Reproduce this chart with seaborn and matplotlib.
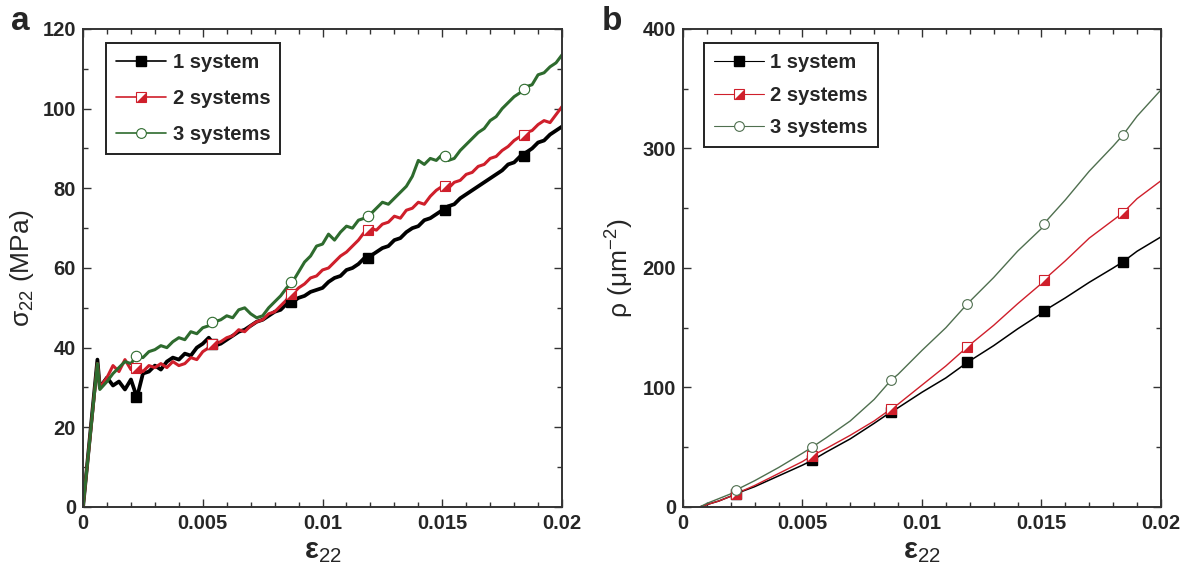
import matplotlib
matplotlib.use("Agg")
import matplotlib.pyplot as plt
import seaborn as sns
import pandas as pd
from matplotlib.path import Path
from matplotlib.ticker import MultipleLocator, FixedLocator, FixedFormatter
from matplotlib.lines import Line2D

# ---------------- data: panel a (stress-strain) ----------------
strain_a = [0, 0.0006, 0.0007,
            0.0010, 0.00125, 0.0015, 0.00175, 0.0020, 0.00225, 0.0025, 0.00275,
            0.0030, 0.00325, 0.0035, 0.00375, 0.0040, 0.00425, 0.0045, 0.00475,
            0.0050, 0.00525, 0.0055, 0.00575, 0.0060, 0.00625, 0.0065, 0.00675,
            0.0070, 0.00725, 0.0075, 0.00775, 0.0080, 0.00825, 0.0085, 0.00875,
            0.0090, 0.00925, 0.0095, 0.00975, 0.0100, 0.01025, 0.0105, 0.01075,
            0.0110, 0.01125, 0.0115, 0.01175, 0.0120, 0.01225, 0.0125, 0.01275,
            0.0130, 0.01325, 0.0135, 0.01375, 0.0140, 0.01425, 0.0145, 0.01475,
            0.0150, 0.01525, 0.0155, 0.01575, 0.0160, 0.01625, 0.0165, 0.01675,
            0.0170, 0.01725, 0.0175, 0.01775, 0.0180, 0.01825, 0.0185, 0.01875,
            0.0190, 0.01925, 0.0195, 0.01975, 0.0200]

stress_1 = [0, 37, 30,
            32.5, 30.5, 31.5, 29.5, 32, 27.5, 33.5, 34,
            35.5, 34.5, 36.5, 37.5, 37, 38.5, 38, 40,
            41, 42.5, 40.5, 41, 42, 43, 44, 44.5,
            45.5, 46.5, 47, 48, 49, 49.5, 51, 51.5,
            52.5, 53, 54, 54.5, 55, 56.5, 57.5, 58,
            59.5, 60, 61, 62.5, 63, 64, 65, 65.5,
            67, 67.5, 69, 70, 70.5, 72, 72.5, 73.5,
            74.5, 75.5, 76, 77.5, 78.5, 79.5, 80.5, 81.5,
            82.5, 83.5, 84.5, 86, 86.5, 88, 89, 90,
            91.5, 92, 93.5, 94.5, 95.5]

stress_2 = [0, 36, 30,
            32.5, 35.5, 34, 37, 34.5, 35, 34, 35.5,
            35, 36, 35, 36.5, 35.5, 36, 37.5, 37,
            39, 40, 41, 41.5, 42.5, 43, 44.5, 44,
            45.5, 46.5, 47, 48.5, 49, 50.5, 52, 53.5,
            55, 56, 57.5, 58, 59.5, 60, 61.5, 63,
            64, 65.5, 67, 69, 70, 69.5, 71, 71.5,
            73, 72.5, 74.5, 75, 76.5, 76, 78, 79.5,
            80.5, 80, 81.5, 82, 83.5, 84, 85.5, 86,
            87.5, 88, 89.5, 90.5, 92, 93, 94, 94.5,
            96, 97, 96.5, 98.5, 100.5]

stress_3 = [0, 36, 29.5,
            31.5, 33.5, 35, 36.5, 36, 38, 37.5, 39,
            39.5, 40.5, 40, 41.5, 42.5, 42, 44, 43.5,
            45, 45.5, 46.5, 47, 48, 47.5, 49.5, 50,
            48.5, 47.5, 48, 50, 51.5, 53, 55, 56.5,
            59, 61.5, 63, 65.5, 66, 68.5, 67, 69,
            70.5, 70, 72, 72.5, 73.5, 75, 76.5, 76,
            77.5, 79, 80.5, 83, 87, 86, 87.5, 87,
            88.5, 87, 87.5, 89.5, 91, 92.5, 94, 95,
            97, 98, 100, 101.5, 103, 104, 105.5, 106,
            108.5, 109, 110.5, 111.5, 113.5]

marker_strain = [0.0022, 0.0054, 0.0087, 0.0119, 0.0151, 0.0184]
marker_stress_1 = [27.5, 41, 51.5, 62.5, 74.5, 88]
marker_stress_2 = [35, 41, 53.5, 69.5, 80.5, 93.5]
marker_stress_3 = [38, 46.5, 56.5, 73, 88, 105]

# ---------------- data: panel b (dislocation density) ----------------
strain_b = [0.0007, 0.0010, 0.0015, 0.0020, 0.0022, 0.0030, 0.0040, 0.0050,
            0.0054, 0.0060, 0.0070, 0.0080, 0.0087, 0.0090, 0.0100, 0.0110,
            0.0119, 0.0130, 0.0140, 0.0150, 0.0151, 0.0160, 0.0170, 0.0180,
            0.0184, 0.0190, 0.0200]
rho_1 = [0, 2, 5, 9, 11, 17, 26, 35,
         39, 46, 57, 70, 79.5, 83, 96, 108,
         121, 135, 149, 162, 164, 175, 188, 200,
         205, 214, 226]
rho_2 = [0, 2, 5, 9, 11, 18, 28, 38,
         43, 49, 60, 72, 82, 86, 102, 118,
         134, 152, 170, 187, 190, 206, 225, 240,
         246, 258, 273]
rho_3 = [0, 3, 7, 11, 14, 22, 33, 45,
         50, 58, 72, 90, 106, 111, 131, 150,
         170, 192, 214, 233, 237, 257, 281, 302,
         311, 327, 349]
marker_rho_1 = [11, 39, 79.5, 121, 164, 205]
marker_rho_2 = [11, 43, 82, 134, 190, 246]
marker_rho_3 = [14, 50, 106, 170, 237, 311]

series_names = ["1 system", "2 systems", "3 systems"]
x_ticks = [0, 0.005, 0.01, 0.015, 0.02]
x_tick_labels = ["0", "0.005", "0.01", "0.015", "0.02"]
y_ticks_a = [0, 20, 40, 60, 80, 100, 120]
y_ticks_b = [0, 100, 200, 300, 400]

# ---------------- style ----------------
sns.set_style("ticks")
plt.rcParams['font.family'] = ['Liberation Sans', 'DejaVu Sans']
plt.rcParams['mathtext.fontset'] = 'custom'
plt.rcParams['mathtext.rm'] = 'Liberation Sans'
plt.rcParams['mathtext.it'] = 'Liberation Sans:italic'
plt.rcParams['mathtext.bf'] = 'Liberation Sans:bold'

BLACK = "#000000"
RED = "#cf1f2b"
GREEN = "#2e6b2e"
GREEN_B = "#4f6f4f"
SPINE = "#333333"

lower_right_tri = Path([(1, -1), (1, 1), (-1, -1), (1, -1)],
                       [Path.MOVETO, Path.LINETO, Path.LINETO, Path.CLOSEPOLY])

fig = plt.figure(figsize=(11.95, 5.76), dpi=100)
ax_a = fig.add_axes([0.0695, 0.1198, 0.4008, 0.8299])
ax_b = fig.add_axes([0.5715, 0.1198, 0.4000, 0.8299])


def draw_panel(ax, x, ys, mx, mys, lws, colors, ms):
    for y, c, lw in zip(ys, colors, lws):
        df = pd.DataFrame({"x": x, "y": y})
        sns.lineplot(data=df, x="x", y="y", ax=ax, color=c, lw=lw,
                     sort=False, estimator=None, legend=False, zorder=2)
    mdf1 = pd.DataFrame({"x": mx, "y": mys[0]})
    ax.plot(mdf1.x, mdf1.y, ls="none", marker="s", ms=ms, mfc=colors[0],
            mec=colors[0], zorder=3)
    mdf2 = pd.DataFrame({"x": mx, "y": mys[1]})
    ax.plot(mdf2.x, mdf2.y, ls="none", marker="s", ms=ms, mfc="white",
            mec=colors[1], mew=0.8, zorder=4)
    ax.plot(mdf2.x, mdf2.y, ls="none", marker=lower_right_tri, ms=ms * 0.95,
            mfc=colors[1], mec="none", zorder=5)
    mdf3 = pd.DataFrame({"x": mx, "y": mys[2]})
    ax.plot(mdf3.x, mdf3.y, ls="none", marker="o", ms=ms, mfc="white",
            mec=colors[2], mew=0.8, zorder=6)


draw_panel(ax_a, strain_a, [stress_1, stress_2, stress_3], marker_strain,
           [marker_stress_1, marker_stress_2, marker_stress_3], [2.7, 2.2, 2.2],
           [BLACK, RED, GREEN], 7.5)
draw_panel(ax_b, strain_b, [rho_1, rho_2, rho_3], marker_strain,
           [marker_rho_1, marker_rho_2, marker_rho_3], [1.1, 1.0, 1.0],
           [BLACK, RED, GREEN_B], 7)

for ax, yt, ymax, yminor in [(ax_a, y_ticks_a, 120, 10), (ax_b, y_ticks_b, 400, 50)]:
    ax.set_xlim(0, 0.02)
    ax.set_ylim(0, ymax)
    ax.xaxis.set_major_locator(FixedLocator(x_ticks))
    ax.xaxis.set_major_formatter(FixedFormatter(x_tick_labels))
    ax.xaxis.set_minor_locator(MultipleLocator(0.001))
    ax.yaxis.set_major_locator(FixedLocator(yt))
    ax.yaxis.set_major_formatter(FixedFormatter([str(v) for v in yt]))
    ax.yaxis.set_minor_locator(MultipleLocator(yminor))
    ax.tick_params(which="both", direction="in", top=True, right=True,
                   color=SPINE, width=1.0)
    ax.tick_params(which="major", length=6, labelsize=14.5, pad=5)
    ax.tick_params(which="minor", length=3.5)
    for lab in ax.get_xticklabels() + ax.get_yticklabels():
        lab.set_fontweight("bold")
    for s in ax.spines.values():
        s.set_visible(True)
        s.set_color(SPINE)
        s.set_linewidth(1.4)
    ax.set_xlabel(r"ε$_{22}$", fontsize=21, fontweight="bold", labelpad=3)

ax_a.set_ylabel(r"σ$_{22}$ (MPa)", fontsize=19, labelpad=5)
ax_b.set_ylabel(r"ρ (μm$^{-2}$)", fontsize=19, labelpad=5)


def legend_handles(lw, colors):
    h1 = Line2D([], [], color=colors[0], lw=lw, marker="s", ms=7, mfc=colors[0], mec=colors[0])
    h2 = (Line2D([], [], color=colors[1], lw=lw, marker="s", ms=7, mfc="white", mec=colors[1], mew=0.8),
          Line2D([], [], ls="none", marker=lower_right_tri, ms=6.6, mfc=colors[1], mec="none"))
    h3 = Line2D([], [], color=colors[2], lw=lw, marker="o", ms=7, mfc="white", mec=colors[2], mew=0.8)
    return [h1, h2, h3]


for ax, lw, cols, lsp, anchor in [(ax_a, 1.2, [BLACK, RED, GREEN], 0.84, (0.048, 0.971)),
                                  (ax_b, 0.8, [BLACK, RED, GREEN_B], 0.68, (0.044, 0.971))]:
    leg = ax.legend(legend_handles(lw, cols), series_names, loc="upper left",
                    bbox_to_anchor=anchor, borderaxespad=0, fancybox=False, framealpha=1,
                    edgecolor="#222222", handlelength=2.5, handletextpad=0.3,
                    borderpad=0.5, labelspacing=lsp,
                    prop={"size": 14.5, "weight": "bold"})
    leg.get_frame().set_linewidth(1.4)

fig.text(0.017, 0.962, "a", fontsize=24, fontweight="bold", ha="center", va="center")
fig.text(0.512, 0.962, "b", fontsize=24, fontweight="bold", ha="center", va="center")

fig.savefig("out.png", dpi=100)
